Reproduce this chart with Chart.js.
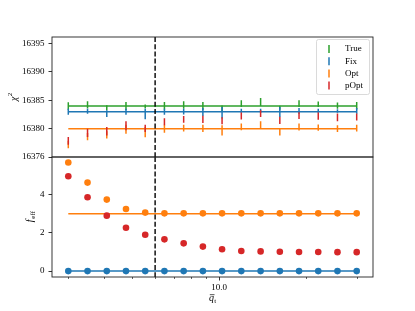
<!DOCTYPE html>
<html><head><meta charset="utf-8">
<script src="https://cdn.jsdelivr.net/npm/chart.js"></script>
<style>
html,body{margin:0;padding:0;background:#fff;}
#wrap{position:relative;width:415px;height:311px;overflow:hidden;background:#fff;}
canvas{position:absolute;left:0;}
#c1{top:0;width:415px;height:167px;}
#c2{top:147px;width:415px;height:164px;}
</style></head><body>
<div id="wrap">
<canvas id="c2" width="415" height="164"></canvas>
<canvas id="c1" width="415" height="167"></canvas>
</div>
<script>
// ---- data ----
const qt = [3.0, 3.498, 4.079, 4.755, 5.544, 6.463, 7.536, 8.786, 10.24, 11.94, 13.93, 16.24, 18.93, 22.07, 25.73, 30.0];
const vlineX = [6.0];

const chi2TrueLevel = 16384;
const chi2FixLevel = 16383;
const chi2OptLevel = 16380;

const chi2TrueMean = [16384.0, 16384.2, 16383.7, 16384.0, 16383.9, 16384.05, 16384.17, 16384.0, 16383.6, 16384.4, 16384.7, 16383.7, 16384.4, 16384.3, 16384.05, 16384.05];
const chi2TrueErr  = [0.65, 0.65, 0.45, 0.72, 0.35, 0.65, 0.65, 0.72, 0.5, 0.6, 0.72, 0.35, 0.6, 0.5, 0.55, 0.65];
const chi2FixMean  = [16383.0, 16383.08, 16382.64, 16383.0, 16382.58, 16383.0, 16383.0, 16382.94, 16382.8, 16383.17, 16383.17, 16382.94, 16383.14, 16383.15, 16383.12, 16383.14];
const chi2FixErr   = [0.53, 0.44, 0.59, 0.53, 0.94, 0.53, 0.5, 0.7, 1.03, 0.35, 0.35, 0.88, 0.5, 0.35, 0.3, 0.5];
const chi2OptMean  = [16377.2, 16378.6, 16378.9, 16379.9, 16379.4, 16380.0, 16380.1, 16380.04, 16379.7, 16380.3, 16380.64, 16379.41, 16380.29, 16380.17, 16380.0, 16380.1];
const chi2OptErr   = [0.65, 0.65, 0.65, 0.8, 0.9, 0.7, 0.6, 0.65, 0.9, 0.6, 0.65, 0.6, 0.6, 0.55, 0.6, 0.6];
const chi2POptMean = [16377.85, 16379.26, 16379.55, 16380.5, 16380.06, 16381.2, 16381.64, 16381.64, 16381.4, 16382.23, 16382.64, 16381.45, 16382.3, 16382.22, 16381.98, 16382.07];
const chi2POptErr  = [0.68, 0.74, 0.74, 0.8, 0.65, 0.62, 0.6, 0.65, 0.63, 0.62, 0.6, 0.65, 0.6, 0.65, 0.68, 0.62];

const feffOptLevel = 3.0;
const feffFix  = [0, 0, 0, 0, 0, 0, 0, 0, 0, 0, 0, 0, 0, 0, 0, 0];
const feffOpt  = [5.68, 4.63, 3.74, 3.25, 3.06, 3.02, 3.02, 3.02, 3.02, 3.02, 3.02, 3.02, 3.02, 3.02, 3.02, 3.02];
const feffPOpt = [4.96, 3.86, 2.90, 2.27, 1.90, 1.66, 1.45, 1.28, 1.14, 1.05, 1.03, 1.01, 1.00, 1.00, 0.99, 0.99];

const legendNames = ['True', 'Fix', 'Opt', 'pOpt'];
const yTopTicks = [16375, 16380, 16385, 16390, 16395];
const yTopTickLabels = ['16376', '16380', '16385', '16390', '16395'];
const yBotTicks = [0, 2, 4];
const yBotTickLabels = ['0', '2', '4'];
const xMajorTicks = [10];
const xMajorLabels = ['10.0'];
const xMinorTicks = [3, 4, 5, 6, 7, 8, 9, 20, 30];

// ---- styles ----
const C = {green:'#2ca02c', blue:'#1f77b4', orange:'#ff7f0e', red:'#d62728'};
const legendColors = [C.green, C.blue, C.orange, C.red];
const FONT = '"Liberation Serif", "DejaVu Serif", serif';
const xMin = 2.634, xMax = 34.17;

function errSegments(mean, err){
  const out = [];
  for (let i = 0; i < qt.length; i++){
    out.push({x: qt[i], y: mean[i] - err[i]});
    out.push({x: qt[i], y: mean[i] + err[i]});
    out.push({x: qt[i], y: null});
  }
  return out;
}
function level(v){ return [{x: qt[0], y: v}, {x: qt[qt.length-1], y: v}]; }
function pts(arr){ return arr.map((v,i)=>({x: qt[i], y: v})); }

const framePlugin = {
  id: 'frame',
  afterDatasetsDraw(chart){
    const {ctx, chartArea: a, scales} = chart;
    ctx.save();
    const xp = scales.x.getPixelForValue(vlineX[0]);
    ctx.strokeStyle = '#000'; ctx.lineWidth = 1.4; ctx.setLineDash([5, 2.2]);
    ctx.beginPath(); ctx.moveTo(xp, a.top); ctx.lineTo(xp, a.bottom); ctx.stroke();
    ctx.setLineDash([]);
    ctx.strokeStyle = '#222'; ctx.lineWidth = 0.9;
    ctx.strokeRect(a.left, a.top, a.right - a.left, a.bottom - a.top);
    ctx.restore();
  }
};

const topDecor = {
  id: 'topDecor',
  afterDraw(chart){
    const {ctx, chartArea: a} = chart;
    ctx.save();
    // legend box
    const w = 53, h = 55, x0 = a.right - 57, y0 = a.top + 2;
    ctx.fillStyle = 'rgba(255,255,255,0.8)';
    ctx.strokeStyle = '#d0d0d0'; ctx.lineWidth = 0.8;
    ctx.beginPath();
    if (ctx.roundRect) ctx.roundRect(x0 + 0.5, y0 + 0.5, w, h, 2); else ctx.rect(x0 + 0.5, y0 + 0.5, w, h);
    ctx.fill(); ctx.stroke();
    legendNames.forEach((n, i) => {
      const y = y0 + 10 + i * 12.2;
      ctx.strokeStyle = legendColors[i]; ctx.lineWidth = 1.5;
      ctx.beginPath(); ctx.moveTo(x0 + 13, y - 4); ctx.lineTo(x0 + 13, y + 4); ctx.stroke();
      ctx.fillStyle = '#000'; ctx.font = '9px ' + FONT; ctx.textBaseline = 'middle'; ctx.textAlign = 'left';
      ctx.fillText(n, x0 + 29, y);
    });
    // y title chi^2
    ctx.translate(13.5, (a.top + a.bottom) / 2);
    ctx.rotate(-Math.PI / 2);
    ctx.fillStyle = '#000';
    ctx.font = 'italic 10px ' + FONT;
    const w1 = ctx.measureText('χ').width;
    ctx.font = '7px ' + FONT;
    const w2 = ctx.measureText('2').width;
    const sx = -(w1 + w2) / 2;
    ctx.textBaseline = 'alphabetic';
    ctx.font = 'italic 10px ' + FONT;
    ctx.fillText('χ', sx, 3);
    ctx.font = '7px ' + FONT;
    ctx.fillText('2', sx + w1 + 0.3, -1.5);
    ctx.restore();
  }
};

const botDecor = {
  id: 'botDecor',
  afterDraw(chart){
    const {ctx, chartArea: a, scales} = chart;
    ctx.save();
    // minor ticks
    ctx.strokeStyle = '#000'; ctx.lineWidth = 0.6;
    xMinorTicks.forEach(v => {
      const xp = Math.round(scales.x.getPixelForValue(v)) + 0.5;
      ctx.beginPath(); ctx.moveTo(xp, a.bottom); ctx.lineTo(xp, a.bottom + 2); ctx.stroke();
    });
    // y title f_eff
    ctx.save();
    ctx.translate(30, (a.top + a.bottom) / 2);
    ctx.rotate(-Math.PI / 2);
    ctx.fillStyle = '#000';
    ctx.font = 'italic 10px ' + FONT;
    const wf = ctx.measureText('f').width;
    ctx.font = '7px ' + FONT;
    const we = ctx.measureText('eff').width;
    const sx = -(wf + we) / 2;
    ctx.font = 'italic 10px ' + FONT;
    ctx.fillText('f', sx, 3);
    ctx.font = '7px ' + FONT;
    ctx.fillText('eff', sx + wf + 0.8, 5);
    ctx.restore();
    // x title q-bar_t
    const cx = (a.left + a.right) / 2, by = a.bottom + 24;
    ctx.fillStyle = '#000';
    ctx.font = 'italic 10px ' + FONT;
    const wq = ctx.measureText('q').width;
    ctx.font = '7px ' + FONT;
    const wt = ctx.measureText('t').width;
    const qx = cx - (wq + wt) / 2;
    ctx.font = 'italic 10px ' + FONT;
    ctx.fillText('q', qx, by);
    ctx.strokeStyle = '#000'; ctx.lineWidth = 0.7;
    ctx.beginPath(); ctx.moveTo(qx + 0.8, by - 6.3); ctx.lineTo(qx + wq + 0.5, by - 6.3); ctx.stroke();
    ctx.font = '7px ' + FONT;
    ctx.fillText('t', qx + wq + 0.3, by + 2);
    ctx.restore();
  }
};

Chart.defaults.font.family = FONT;
Chart.defaults.color = '#000';

const yTickCommon = (ticks, labels) => ({
  autoSkip: false,
  callback: (v) => { const i = ticks.indexOf(v); return i >= 0 ? labels[i] : ''; },
  font: {family: FONT, size: 9}, color: '#000', padding: 4
});
const yGrid = {drawOnChartArea: false, drawTicks: true, tickLength: 3.5, tickColor: '#000', tickWidth: 0.8};

function lineDS(data, color, order){
  return {type: 'line', data, borderColor: color, backgroundColor: color, borderWidth: 1.5,
    pointRadius: 0, pointHoverRadius: 0, spanGaps: false, fill: false, order, tension: 0};
}

new Chart(document.getElementById('c1'), {
  type: 'line',
  data: {datasets: [
    lineDS(errSegments(chi2POptMean, chi2POptErr), C.red, 1),
    lineDS(errSegments(chi2OptMean, chi2OptErr), C.orange, 2),
    lineDS(level(chi2OptLevel), C.orange, 3),
    lineDS(errSegments(chi2FixMean, chi2FixErr), C.blue, 4),
    lineDS(level(chi2FixLevel), C.blue, 5),
    lineDS(errSegments(chi2TrueMean, chi2TrueErr), C.green, 6),
    lineDS(level(chi2TrueLevel), C.green, 7)
  ]},
  options: {
    responsive: false, animation: false, devicePixelRatio: 1,
    layout: {padding: {left: 0, right: 42, top: 37, bottom: 10}},
    plugins: {legend: {display: false}, tooltip: {enabled: false}},
    scales: {
      x: {type: 'logarithmic', min: xMin, max: xMax, display: false},
      y: {type: 'linear', min: 16375.0, max: 16396.17,
        afterFit(s){ s.width = 52; },
        afterBuildTicks(s){ s.ticks = yTopTicks.map(v => ({value: v})); },
        ticks: yTickCommon(yTopTicks, yTopTickLabels),
        grid: yGrid, border: {display: false}}
    }
  },
  plugins: [framePlugin, topDecor]
});

new Chart(document.getElementById('c2'), {
  type: 'line',
  data: {datasets: [
    {type: 'scatter', data: pts(feffPOpt), backgroundColor: C.red, borderColor: C.red, pointRadius: 3.3, pointBorderWidth: 0, showLine: false, order: 1},
    {type: 'scatter', data: pts(feffOpt), backgroundColor: C.orange, borderColor: C.orange, pointRadius: 3.3, pointBorderWidth: 0, showLine: false, order: 2},
    lineDS(level(feffOptLevel), C.orange, 3),
    {type: 'line', data: pts(feffFix), borderColor: C.blue, backgroundColor: C.blue, borderWidth: 1.5, pointRadius: 3.3, pointBorderWidth: 0, pointBackgroundColor: C.blue, fill: false, order: 4, tension: 0}
  ]},
  options: {
    responsive: false, animation: false, devicePixelRatio: 1,
    layout: {padding: {left: 0, right: 42, top: 10, bottom: 0}},
    plugins: {legend: {display: false}, tooltip: {enabled: false}},
    scales: {
      x: {type: 'logarithmic', min: xMin, max: xMax,
        afterFit(s){ s.height = 34; },
        afterBuildTicks(s){ s.ticks = xMajorTicks.map(v => ({value: v})); },
        ticks: {autoSkip: false, maxRotation: 0, minRotation: 0,
          callback: (v) => { const i = xMajorTicks.indexOf(v); return i >= 0 ? xMajorLabels[i] : ''; },
          font: {family: FONT, size: 9}, color: '#000', padding: 2},
        grid: {drawOnChartArea: false, drawTicks: true, tickLength: 3.5, tickColor: '#000', tickWidth: 0.8},
        border: {display: false}},
      y: {type: 'linear', min: -0.31, max: 5.97,
        afterFit(s){ s.width = 52; },
        afterBuildTicks(s){ s.ticks = yBotTicks.map(v => ({value: v})); },
        ticks: yTickCommon(yBotTicks, yBotTickLabels),
        grid: yGrid, border: {display: false}}
    }
  },
  plugins: [framePlugin, botDecor]
});
</script>
</body></html>
